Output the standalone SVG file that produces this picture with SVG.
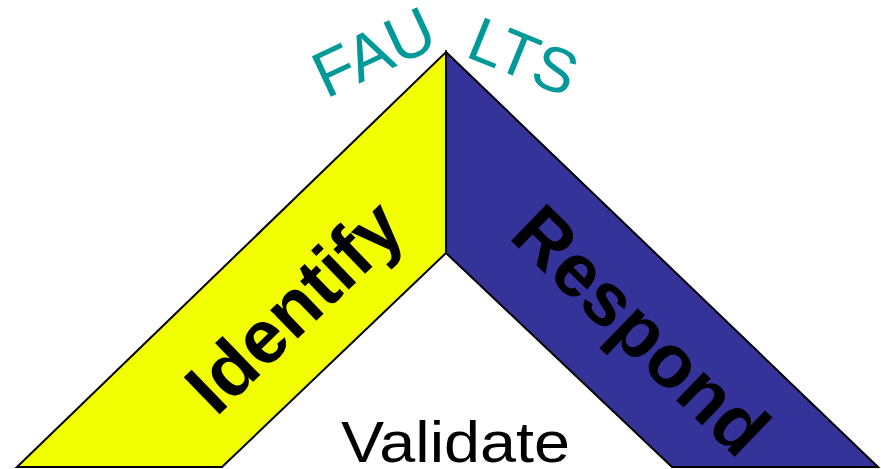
<svg xmlns="http://www.w3.org/2000/svg" width="881" height="469" viewBox="0 0 881 469">
  <style>
    .band { stroke: #000000; stroke-width: 2; stroke-linejoin: miter; }
    .label { font-family: "Liberation Sans", Arial, sans-serif; font-weight: bold; font-size: 75px; fill: #000000; text-anchor: middle; }
    .arch { font-family: "Liberation Sans", Arial, sans-serif; font-size: 65px; fill: #009999; }
    .plain { font-family: "Liberation Sans", Arial, sans-serif; font-size: 57px; fill: #000000; }
  </style>
  <rect width="881" height="469" fill="#ffffff"/>
  <g id="identify">
    <polygon class="band" fill="#F2FF00" points="17,467 446,52 446,253 222,467"/>
    <text class="label" transform="translate(312,325) rotate(-44)">Identify</text>
  </g>
  <g id="respond">
    <polygon class="band" fill="#333399" points="446,52 878,467 672,467 446,253"/>
    <text class="label" transform="translate(623,349) rotate(44)">Respond</text>
  </g>
  <g id="faults">
    <text class="arch" transform="translate(326,99) rotate(-25)">FAU</text>
    <text class="arch" style="font-size:63px" transform="translate(464,56) rotate(22)">LTS</text>
  </g>
  <g id="validate">
    <text class="plain" x="341" y="462" textLength="229" lengthAdjust="spacingAndGlyphs">Validate</text>
  </g>
</svg>
